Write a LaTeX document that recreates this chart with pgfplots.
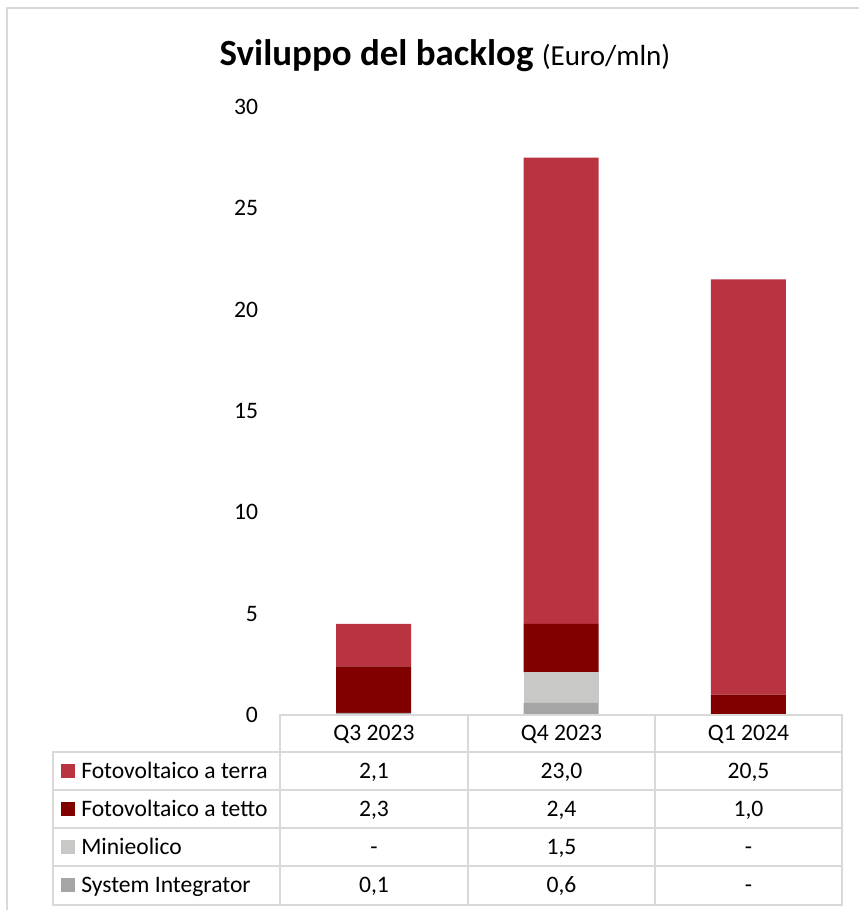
\documentclass[border=0pt]{standalone}
\usepackage{pgfplots}
\pgfplotsset{compat=1.18}
\usepackage{fontspec}
\setmainfont{Carlito}
\definecolor{terra}{HTML}{BA3341}
\definecolor{tetto}{HTML}{800000}
\definecolor{mini}{HTML}{C8C8C6}
\definecolor{sysint}{HTML}{A5A5A5}
\definecolor{gridc}{HTML}{D9D9D9}
\newcommand{\tf}{\fontsize{17.7}{20}\selectfont}
\begin{document}
\begin{tikzpicture}[x=0.75pt,y=0.75pt]
\useasboundingbox (0,0) rectangle (859,910);
\draw[gridc, line width=1.5pt] (7,0) -- (7,902) -- (859,902);
\node[anchor=base, inner sep=0] at (445,844) {\fontsize{27.7}{30}\selectfont\bfseries Sviluppo del backlog \fontsize{21.8}{24}\selectfont\mdseries(Euro/mln)};
\begin{axis}[at={(210pt,146.25pt)}, anchor=south west, scale only axis,
  width=421.5pt, height=456pt,
  ybar stacked, bar width=56.25pt,
  xmin=-0.5, xmax=2.5, ymin=0, ymax=30,
  ytick={0,5,...,30}, xtick=\empty,
  axis line style={draw=none}, major tick length=0pt,
  tick label style={font=\tf},
  /pgf/number format/assume math mode=true,
  yticklabel style={xshift=-13pt},
  clip=false]
\addplot[fill=sysint, draw=none] coordinates {(0,0.1) (1,0.6) (2,0)};
\addplot[fill=mini, draw=none] coordinates {(0,0) (1,1.5) (2,0)};
\addplot[fill=tetto, draw=none] coordinates {(0,2.3) (1,2.4) (2,1.0)};
\addplot[fill=terra, draw=none] coordinates {(0,2.1) (1,23.0) (2,20.5)};
\end{axis}
% data table
\begin{scope}[gridc, line width=1.5pt, line cap=rect]
\draw (280,195) -- (842,195);
\foreach \yy in {158,120,82,44,5} \draw (53,\yy) -- (842,\yy);
\draw (53,158) -- (53,5);
\foreach \xx in {280,468,655,842} \draw (\xx,195) -- (\xx,5);
\end{scope}
\begin{scope}[every node/.style={anchor=base, inner sep=0, font=\tf}]
\node at (374,169) {Q3 2023};
\node at (561.5,169) {Q4 2023};
\node at (748.5,169) {Q1 2024};
% row 1
\node at (374,131.5) {2,1};
\node at (561.5,131.5) {23,0};
\node at (748.5,131.5) {20,5};
% row 2
\node at (374,93.5) {2,3};
\node at (561.5,93.5) {2,4};
\node at (748.5,93.5) {1,0};
% row 3
\node at (374,55.5) {-};
\node at (561.5,55.5) {1,5};
\node at (748.5,55.5) {-};
% row 4
\node at (374,17) {0,1};
\node at (561.5,17) {0,6};
\node at (748.5,17) {-};
\node[anchor=base west] at (81,131.5) {Fotovoltaico a terra};
\node[anchor=base west] at (81,93.5) {Fotovoltaico a tetto};
\node[anchor=base west] at (81,55.5) {Minieolico};
\node[anchor=base west] at (81,17) {System Integrator};
\end{scope}
\fill[terra] (61,132) rectangle (75,146);
\fill[tetto] (61,94) rectangle (75,108);
\fill[mini] (61,56) rectangle (75,70);
\fill[sysint] (61,17.5) rectangle (75,31.5);
\end{tikzpicture}
\end{document}
